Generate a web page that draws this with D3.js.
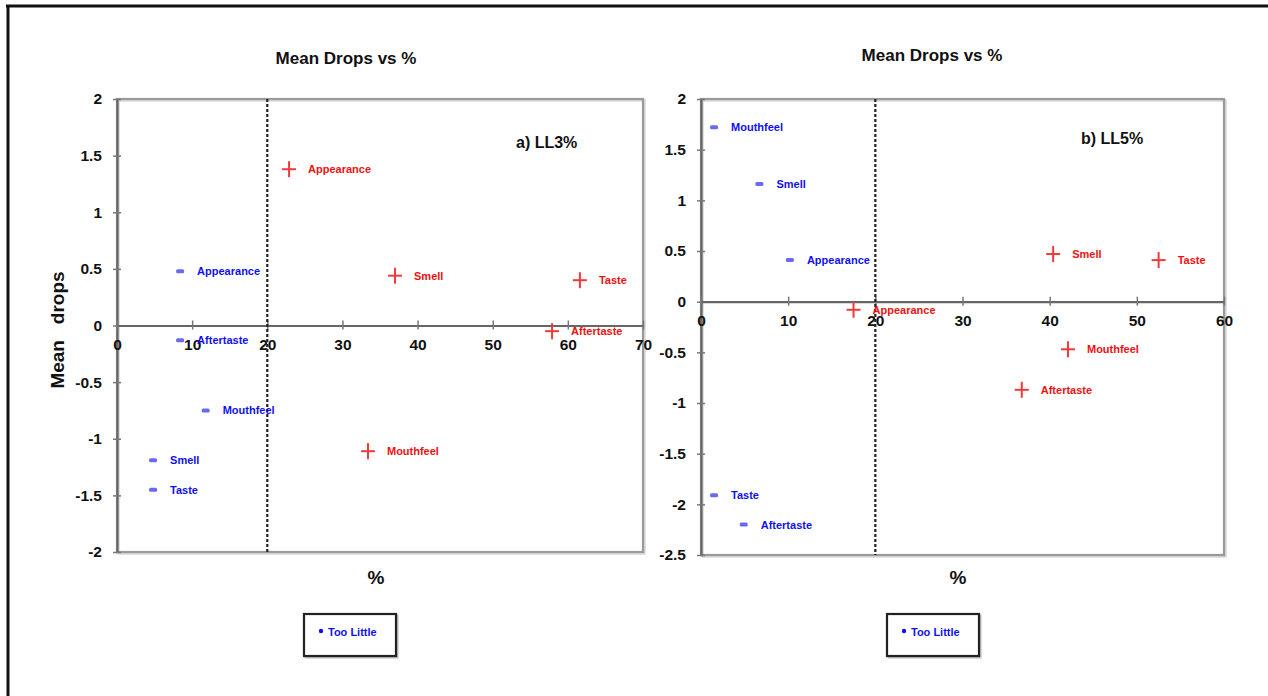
<!DOCTYPE html>
<html>
<head>
<meta charset="utf-8">
<script src="https://cdn.jsdelivr.net/npm/d3@7"></script>
<style>
  html, body { margin: 0; padding: 0; background: #fff; }
  svg { display: block; }
  text { font-family: "Liberation Sans Narrow", "Arial Narrow", "Liberation Sans", Arial, sans-serif; font-weight: bold; }
</style>
</head>
<body>
<svg id="chart" width="1268" height="696"></svg>
<script>
// ---------- data ----------
const ll3TooLittleLabels = ["Appearance", "Aftertaste", "Mouthfeel", "Smell", "Taste"];
const ll3TooLittleX = [8.4, 8.4, 11.8, 4.8, 4.8];
const ll3TooLittleY = [0.48, -0.13, -0.75, -1.19, -1.45];
const ll3TooMuchLabels = ["Appearance", "Smell", "Taste", "Aftertaste", "Mouthfeel"];
const ll3TooMuchX = [22.9, 37.0, 61.6, 57.9, 33.4];
const ll3TooMuchY = [1.38, 0.44, 0.40, -0.05, -1.11];

const ll5TooLittleLabels = ["Mouthfeel", "Smell", "Appearance", "Taste", "Aftertaste"];
const ll5TooLittleX = [1.5, 6.7, 10.2, 1.5, 4.9];
const ll5TooLittleY = [1.72, 1.16, 0.41, -1.91, -2.20];
const ll5TooMuchLabels = ["Smell", "Taste", "Appearance", "Mouthfeel", "Aftertaste"];
const ll5TooMuchX = [40.4, 52.5, 17.5, 42.1, 36.8];
const ll5TooMuchY = [0.47, 0.41, -0.08, -0.47, -0.87];

const ll3XTicks = [0, 10, 20, 30, 40, 50, 60, 70];
const ll3YTicks = [2, 1.5, 1, 0.5, 0, -0.5, -1, -1.5, -2];
const ll5XTicks = [0, 10, 20, 30, 40, 50, 60];
const ll5YTicks = [2, 1.5, 1, 0.5, 0, -0.5, -1, -1.5, -2, -2.5];

const chartTitle = "Mean Drops vs %";
const threshold = 20;
const legendLabel = "Too Little";

// ---------- drawing ----------
const svg = d3.select("#chart");
const FONT = '"Liberation Sans Narrow", "Arial Narrow", "Liberation Sans", Arial, sans-serif';

// outer frame (left & top edges visible)
svg.append("line").attr("x1", 8).attr("y1", 5).attr("x2", 8).attr("y2", 696)
  .attr("stroke", "#111").attr("stroke-width", 3);
svg.append("line").attr("x1", 6).attr("y1", 6).attr("x2", 1268).attr("y2", 6)
  .attr("stroke", "#111").attr("stroke-width", 3);

function fmt(v) { return String(v); }

function panel(cfg) {
  const x = d3.scaleLinear().domain(cfg.xDomain).range([cfg.left, cfg.right]);
  const y = d3.scaleLinear().domain(cfg.yDomain).range([cfg.bottom, cfg.top]);
  const g = svg.append("g");

  // title
  g.append("text").attr("x", cfg.titleX).attr("y", cfg.titleY)
    .attr("text-anchor", "middle").attr("font-size", 17).attr("fill", "#111")
    .text(chartTitle);

  // frame shadow + frame
  g.append("rect").attr("x", cfg.left + 1.5).attr("y", cfg.top + 1.5)
    .attr("width", cfg.right - cfg.left).attr("height", cfg.bottom - cfg.top)
    .attr("fill", "none").attr("stroke", "#d8d8d8").attr("stroke-width", 2.5);
  g.append("rect").attr("x", cfg.left).attr("y", cfg.top)
    .attr("width", cfg.right - cfg.left).attr("height", cfg.bottom - cfg.top)
    .attr("fill", "none").attr("stroke", "#9a9a9a").attr("stroke-width", 2.2);

  // y axis
  const yAxis = d3.axisLeft(y).tickValues(cfg.yTicks).tickFormat(fmt)
    .tickSizeInner(5).tickSizeOuter(0).tickPadding(10);
  const ya = g.append("g").attr("transform", `translate(${x(0)},0)`).call(yAxis);
  ya.select(".domain").attr("stroke", "#666").attr("stroke-width", 2.2);
  ya.selectAll(".tick line").attr("stroke", "#777").attr("stroke-width", 1.5).attr("x2", 4).attr("x1", -4);
  ya.selectAll(".tick text").attr("font-size", 15.5).attr("fill", "#111")
    .attr("font-family", FONT).attr("font-weight", "bold").attr("x", -15);

  // x axis through y = 0
  const xAxis = d3.axisBottom(x).tickValues(cfg.xTicks).tickFormat(fmt)
    .tickSizeInner(5).tickSizeOuter(0).tickPadding(cfg.xLabelPad);
  const xa = g.append("g").attr("transform", `translate(0,${y(0)})`).call(xAxis);
  xa.select(".domain").attr("stroke", "#666").attr("stroke-width", 2.2);
  xa.selectAll(".tick line").attr("stroke", "#777").attr("stroke-width", 1.5).attr("y1", -5).attr("y2", 4);
  xa.selectAll(".tick text").attr("font-size", 15.5).attr("fill", "#111")
    .attr("font-family", FONT).attr("font-weight", "bold");

  // dashed threshold line
  g.append("line").attr("x1", x(threshold)).attr("x2", x(threshold))
    .attr("y1", cfg.top).attr("y2", cfg.bottom)
    .attr("stroke", "#222").attr("stroke-width", 2.2).attr("stroke-dasharray", "3,2");

  // panel annotation
  g.append("text").attr("x", cfg.annX).attr("y", cfg.annY)
    .attr("font-size", 16).attr("fill", "#111").text(cfg.annotation);

  // too little points (blue dashes)
  const little = cfg.littleLabels.map((l, i) => ({ l, x: cfg.littleX[i], y: cfg.littleY[i] }));
  g.selectAll(".lm").data(little).enter().append("rect")
    .attr("x", d => x(d.x) - 4).attr("y", d => y(d.y) - 2)
    .attr("width", 8).attr("height", 4).attr("rx", 1.5)
    .attr("fill", "#6a6af0");
  g.selectAll(".ll").data(little).enter().append("text")
    .attr("x", d => x(d.x) + 17).attr("y", d => y(d.y) + 4)
    .attr("font-size", 11).attr("fill", "#1010ee").text(d => d.l);

  // too much points (red plus)
  const much = cfg.muchLabels.map((l, i) => ({ l, x: cfg.muchX[i], y: cfg.muchY[i] }));
  const pg = g.selectAll(".mm").data(much).enter().append("g")
    .attr("transform", d => `translate(${x(d.x)},${y(d.y)})`);
  pg.append("line").attr("x1", -7).attr("x2", 7).attr("stroke", "#f03a3a").attr("stroke-width", 2);
  pg.append("line").attr("y1", -8).attr("y2", 8).attr("stroke", "#f03a3a").attr("stroke-width", 2);
  g.selectAll(".ml").data(much).enter().append("text")
    .attr("x", d => x(d.x) + 19).attr("y", d => y(d.y) + 4)
    .attr("font-size", 11).attr("fill", "#ee1111").text(d => d.l);

  // x axis title
  g.append("text").attr("x", cfg.pctX).attr("y", 584).attr("text-anchor", "middle")
    .attr("font-size", 19).attr("fill", "#111").text("%");

  // legend box
  g.append("rect").attr("x", cfg.legX + 1.5).attr("y", 615.5).attr("width", 92).attr("height", 42)
    .attr("fill", "none").attr("stroke", "#bbb").attr("stroke-width", 2);
  g.append("rect").attr("x", cfg.legX).attr("y", 614).attr("width", 92).attr("height", 42)
    .attr("fill", "#fff").attr("stroke", "#222").attr("stroke-width", 2.2);
  g.append("circle").attr("cx", cfg.legX + 17).attr("cy", 631).attr("r", 2.2).attr("fill", "#1010ee");
  g.append("text").attr("x", cfg.legX + 24).attr("y", 636).attr("font-size", 11)
    .attr("fill", "#1010ee").text(legendLabel);
}

panel({
  left: 117, right: 643, top: 99, bottom: 552,
  xDomain: [0, 70], yDomain: [-2, 2], xTicks: ll3XTicks, yTicks: ll3YTicks,
  xLabelPad: 8,
  titleX: 346, titleY: 64, annotation: "a) LL3%", annX: 516, annY: 148,
  littleLabels: ll3TooLittleLabels, littleX: ll3TooLittleX, littleY: ll3TooLittleY,
  muchLabels: ll3TooMuchLabels, muchX: ll3TooMuchX, muchY: ll3TooMuchY,
  pctX: 376, legX: 304
});

panel({
  left: 701, right: 1224, top: 99, bottom: 555,
  xDomain: [0, 60], yDomain: [-2.5, 2], xTicks: ll5XTicks, yTicks: ll5YTicks,
  xLabelPad: 8,
  titleX: 932, titleY: 61, annotation: "b) LL5%", annX: 1081, annY: 144,
  littleLabels: ll5TooLittleLabels, littleX: ll5TooLittleX, littleY: ll5TooLittleY,
  muchLabels: ll5TooMuchLabels, muchX: ll5TooMuchX, muchY: ll5TooMuchY,
  pctX: 958, legX: 887
});

// y-axis title (left panel only)
svg.append("text").attr("transform", "translate(64,330) rotate(-90)")
  .attr("text-anchor", "middle").attr("font-size", 19).attr("fill", "#111")
  .attr("xml:space", "preserve").style("white-space", "pre")
  .text("Mean   drops");
</script>
</body>
</html>
